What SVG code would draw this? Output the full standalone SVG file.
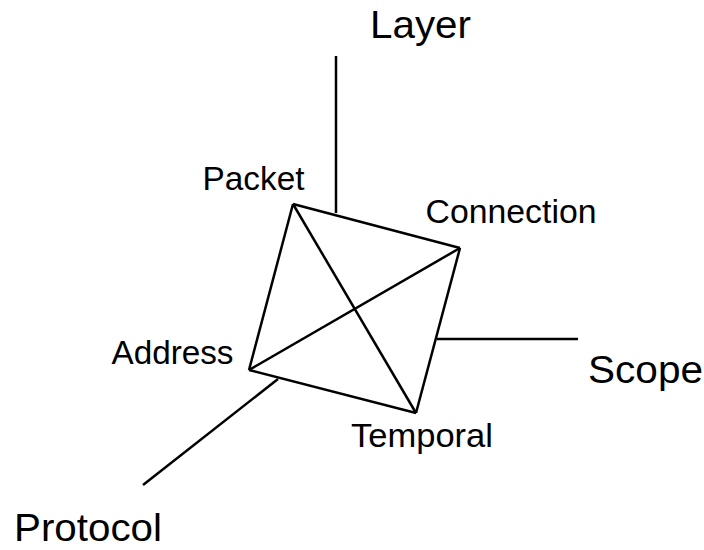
<svg xmlns="http://www.w3.org/2000/svg" width="704" height="550" viewBox="0 0 704 550">
<style>
.ln{stroke:#000;stroke-width:2.5;fill:none;stroke-linecap:butt}
.big{font-family:"Liberation Sans",Arial,sans-serif;font-size:39px;fill:#000}
.sm{font-family:"Liberation Sans",Arial,sans-serif;font-size:33px;fill:#000}
</style>
<rect width="704" height="550" fill="#fff"/>
<g id="connectors">
<line class="ln" x1="336" y1="56" x2="336" y2="213"/>
<line class="ln" x1="437" y1="339" x2="578" y2="339"/>
<line class="ln" x1="278" y1="379" x2="143" y2="485"/>
<line class="ln" x1="293" y1="204" x2="460" y2="248"/>
<line class="ln" x1="460" y1="248" x2="416" y2="413"/>
<line class="ln" x1="416" y1="413" x2="249" y2="370"/>
<line class="ln" x1="249" y1="370" x2="293" y2="204"/>
<line class="ln" x1="293" y1="204" x2="416" y2="413"/>
<line class="ln" x1="249" y1="370" x2="460" y2="248"/>
</g>
<g id="layer"><text class="big" x="370" y="38" textLength="101" lengthAdjust="spacingAndGlyphs">Layer</text></g>
<g id="scope"><text class="big" x="588" y="383" textLength="115" lengthAdjust="spacingAndGlyphs">Scope</text></g>
<g id="protocol"><text class="big" x="14" y="541" textLength="148" lengthAdjust="spacingAndGlyphs">Protocol</text></g>
<g id="packet"><text class="sm" x="202.5" y="190" textLength="102" lengthAdjust="spacingAndGlyphs">Packet</text></g>
<g id="connection"><text class="sm" x="425.5" y="223" textLength="171" lengthAdjust="spacingAndGlyphs">Connection</text></g>
<g id="address"><text class="sm" x="111.5" y="364" textLength="122" lengthAdjust="spacingAndGlyphs">Address</text></g>
<g id="temporal"><text class="sm" x="351" y="447" textLength="142" lengthAdjust="spacingAndGlyphs">Temporal</text></g>
</svg>
